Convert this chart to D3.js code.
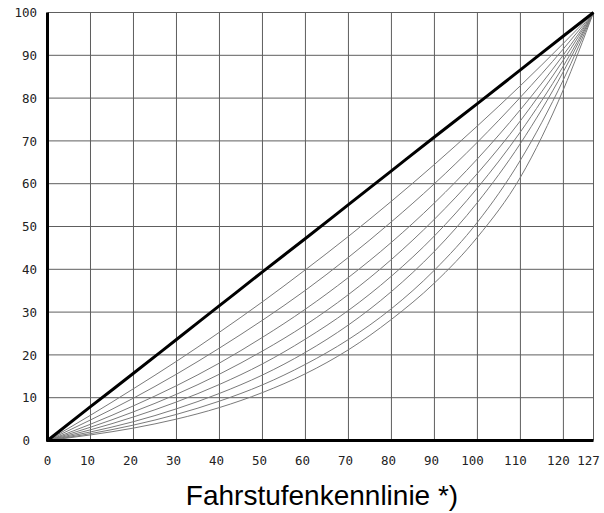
<!DOCTYPE html>
<html>
<head>
<meta charset="utf-8">
<script src="https://cdn.jsdelivr.net/npm/d3@7"></script>
<style>
  html, body { margin: 0; padding: 0; background: #fff; }
  svg { display: block; }
</style>
</head>
<body>
<div id="chart"></div>
<script>
// Fahrstufenkennlinie: Geschwindigkeit (%) ueber Fahrstufe 0..127
// lineare Kennlinie (dick) + Schar von Kurven (duenn)

const STEPS = [0, 10, 20, 30, 40, 50, 60, 70, 80, 90, 100, 110, 120, 127];
const LINEAR = [0, 7.9, 15.7, 23.6, 31.5, 39.4, 47.2, 55.1, 63.0, 70.9, 78.7, 86.6, 94.5, 100];
const CURVES = [
  [0, 5.9, 12.1, 18.5, 25.3, 32.4, 39.9, 47.7, 55.9, 64.5, 73.5, 82.9, 92.8, 100],
  [0, 4.8, 9.9, 15.5, 21.6, 28.1, 35.1, 42.8, 51.1, 60.0, 69.7, 80.2, 91.5, 100],
  [0, 3.8, 8.1, 12.8, 18.1, 24.1, 30.7, 38.1, 46.3, 55.5, 65.8, 77.3, 90.1, 100],
  [0, 3.1, 6.7, 10.8, 15.5, 20.9, 27.0, 34.1, 42.3, 51.7, 62.4, 74.7, 88.9, 100],
  [0, 2.5, 5.5, 9.0, 13.1, 17.9, 23.7, 30.4, 38.4, 47.8, 59.0, 72.1, 87.5, 100],
  [0, 2.0, 4.4, 7.4, 11.0, 15.3, 20.6, 27.0, 34.8, 44.2, 55.6, 69.4, 86.2, 100],
  [0, 1.6, 3.6, 6.1, 9.2, 13.0, 17.8, 23.6, 30.8, 39.8, 51.0, 65.5, 84.3, 100],
  [0, 1.3, 2.9, 5.0, 7.7, 11.2, 15.6, 21.2, 28.3, 36.8, 47.5, 61.5, 82.0, 100]
];
const X_TICKS = [0, 10, 20, 30, 40, 50, 60, 70, 80, 90, 100, 110, 120, 127];
const Y_TICKS = [0, 10, 20, 30, 40, 50, 60, 70, 80, 90, 100];
const TITLE = 'Fahrstufenkennlinie *)';

const width = 604, height = 513;
const x = d3.scaleLinear().domain([0, 127]).range([47.5, 593.5]);
const y = d3.scaleLinear().domain([0, 100]).range([440.5, 12.5]);

const svg = d3.select('#chart').append('svg')
  .attr('width', width).attr('height', height);

// Gitter
const grid = svg.append('g').attr('stroke', '#5e5e5e').attr('stroke-width', 1);
X_TICKS.filter(d => d > 0).forEach(d => {
  grid.append('line')
    .attr('x1', x(d)).attr('x2', x(d)).attr('y1', y(0)).attr('y2', y(100));
});
Y_TICKS.filter(d => d > 0).forEach(d => {
  grid.append('line')
    .attr('x1', x(0)).attr('x2', x(127)).attr('y1', y(d)).attr('y2', y(d));
});

// duenne Kurven
const line = d3.line()
  .x((d, i) => x(STEPS[i]))
  .y(d => y(d))
  .curve(d3.curveMonotoneX);

CURVES.forEach(c => {
  svg.append('path')
    .attr('d', line(c))
    .attr('fill', 'none')
    .attr('stroke', '#7a7a7a')
    .attr('stroke-width', 1);
});

// lineare Kennlinie
svg.append('path')
  .attr('d', line(LINEAR))
  .attr('fill', 'none')
  .attr('stroke', '#000')
  .attr('stroke-width', 3);

// Achsen (dick)
svg.append('line')
  .attr('x1', x(0)).attr('x2', x(0)).attr('y1', y(100)).attr('y2', y(0) + 1)
  .attr('stroke', '#000').attr('stroke-width', 3);
svg.append('line')
  .attr('x1', x(0) - 1).attr('x2', x(127)).attr('y1', y(0)).attr('y2', y(0))
  .attr('stroke', '#000').attr('stroke-width', 3);

// Beschriftung
const tickFont = 'DejaVu Sans Mono, monospace';
Y_TICKS.forEach(d => {
  svg.append('text')
    .attr('x', d === 0 ? 30 : 37).attr('y', y(d)).attr('dy', '0.38em')
    .attr('text-anchor', 'end')
    .attr('font-family', tickFont).attr('font-size', '12.5px')
    .attr('fill', '#222')
    .text(d);
});
X_TICKS.forEach(d => {
  svg.append('text')
    .attr('x', x(d) - (d === 0 ? 0 : d >= 100 ? 5 : 3)).attr('y', 465)
    .attr('text-anchor', 'middle')
    .attr('font-family', tickFont).attr('font-size', '12.5px')
    .attr('fill', '#222')
    .text(d);
});

svg.append('text')
  .attr('x', 322).attr('y', 505)
  .attr('text-anchor', 'middle')
  .attr('font-family', 'Liberation Sans, Arial, sans-serif')
  .attr('font-size', '28px')
  .attr('fill', '#000')
  .text(TITLE);
</script>
</body>
</html>
